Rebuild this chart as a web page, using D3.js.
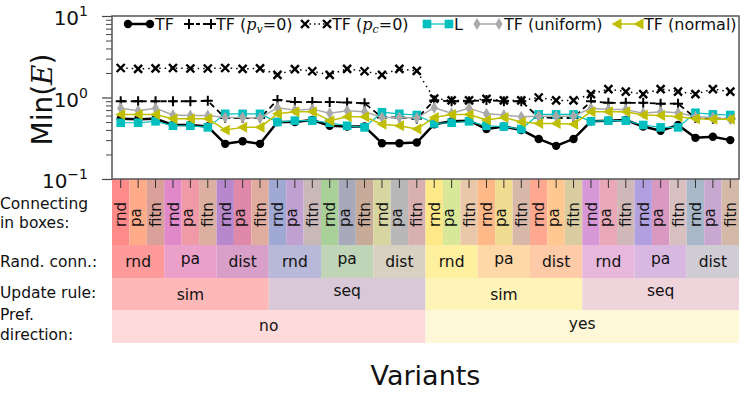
<!DOCTYPE html>
<html>
<head>
<meta charset="utf-8">
<script src="https://cdn.jsdelivr.net/npm/d3@7"></script>
<style>
  body { margin: 0; background: #fff; }
  svg { display: block; font-family: "DejaVu Sans", sans-serif; }
</style>
</head>
<body>
<svg id="chart"></svg>
<script>
// ---- data ----
const variants = d3.range(36);

const tfVals = [0.55, 0.54, 0.55, 0.46, 0.46, 0.44, 0.27, 0.29, 0.27, 0.50, 0.50, 0.53, 0.45, 0.44, 0.44, 0.275, 0.275, 0.28,
                0.47, 0.51, 0.52, 0.41, 0.44, 0.40, 0.31, 0.255, 0.31, 0.51, 0.52, 0.53, 0.44, 0.39, 0.46, 0.32, 0.33, 0.30];
const pvVals = [0.90, 0.90, 0.90, 0.90, 0.90, 0.91, 0.56, 0.56, 0.56, 0.93, 0.88, 0.88, 0.88, 0.87, 0.85, 0.57, 0.57, 0.55,
                0.92, 0.90, 0.90, 0.93, 0.90, 0.90, 0.57, 0.56, 0.56, 0.90, 0.86, 0.86, 0.86, 0.84, 0.84, 0.56, 0.55, 0.55];
const pcVals = [2.30, 2.25, 2.28, 2.30, 2.27, 2.27, 2.30, 2.25, 2.28, 1.90, 2.23, 2.10, 1.90, 2.25, 2.10, 1.90, 2.25, 2.12,
                0.97, 0.92, 0.92, 0.96, 0.92, 0.92, 1.00, 0.92, 0.92, 1.10, 1.27, 1.18, 1.10, 1.27, 1.18, 1.10, 1.27, 1.18];
const lVals  = [0.49, 0.49, 0.51, 0.45, 0.45, 0.43, 0.63, 0.63, 0.63, 0.50, 0.52, 0.52, 0.49, 0.45, 0.43, 0.66, 0.63, 0.61,
                0.48, 0.49, 0.51, 0.45, 0.44, 0.41, 0.62, 0.62, 0.62, 0.51, 0.52, 0.52, 0.46, 0.43, 0.43, 0.65, 0.62, 0.61];
const uniVals = [0.74, 0.69, 0.74, 0.61, 0.60, 0.60, 0.57, 0.57, 0.56, 0.75, 0.70, 0.72, 0.64, 0.69, 0.67, 0.57, 0.57, 0.56,
                 0.75, 0.64, 0.74, 0.63, 0.61, 0.58, 0.59, 0.59, 0.59, 0.74, 0.71, 0.71, 0.64, 0.67, 0.65, 0.58, 0.57, 0.54];
const normVals = [0.62, 0.62, 0.62, 0.55, 0.55, 0.55, 0.40, 0.43, 0.43, 0.63, 0.67, 0.67, 0.52, 0.58, 0.58, 0.47, 0.45, 0.41,
                  0.57, 0.62, 0.62, 0.53, 0.57, 0.50, 0.48, 0.48, 0.47, 0.67, 0.67, 0.67, 0.61, 0.60, 0.58, 0.55, 0.54, 0.54];

// table rows
const boxLabels = d3.range(36).map(i => ["rnd", "pa", "fitn"][i % 3]);
const boxColors = ["#ff8a8a", "#ffaa88", "#d8a098", "#e088c8", "#f09aa8", "#dcb0a0", "#b888cc", "#e088a8", "#e0aca0",
                   "#a0a8d4", "#c0a0d0", "#c8b8b8", "#a8d098", "#a8aabc", "#c8aa98", "#d8d6a0", "#b8b8b8", "#d8b0b0",
                   "#ffe888", "#d8e898", "#e8c8a8", "#ffb888", "#f0dc90", "#d8b8a8", "#ffa890", "#ffc890", "#d8cca0",
                   "#d898d8", "#e8a8b8", "#d0b8b8", "#b0a0e0", "#d898c0", "#d8c0c0", "#a8b8c8", "#c8a8d0", "#d4b8a8"];
const connLabels = ["rnd", "pa", "dist", "rnd", "pa", "dist", "rnd", "pa", "dist", "rnd", "pa", "dist"];
const connColors = ["#ff9a9a", "#eaa0c8", "#d8a0c8", "#b8b8d8", "#c0d4b8", "#d8d0c0",
                    "#fff0a0", "#ffd8a8", "#ffcaa8", "#e8b8dc", "#d8b8e0", "#d0ccd4"];
const ruleLabels = ["sim", "seq", "sim", "seq"];
const ruleColors = ["#ffb8b8", "#d8c8d8", "#fff4b8", "#f0d4dc"];
const dirLabels = ["no", "yes"];
const dirColors = ["#ffdada", "#fff8d8"];

const rowNames = [["Connecting", "in boxes:"], ["Rand. conn.:"], ["Update rule:"], ["Pref.", "direction:"]];

// ---- layout ----
const W = 747, H = 399;
const plot = { left: 112, right: 739, top: 16, bottom: 179 };
const rowY = [179, 245, 278, 310, 343];

const svg = d3.select("#chart").attr("width", W).attr("height", H);

// scales
const x = d3.scaleBand().domain(variants).range([plot.left, plot.right]).padding(0);
const cx = i => x(i) + x.bandwidth() / 2;
const y = d3.scaleLog().domain([0.1, 10]).range([plot.bottom, plot.top]);

// baseline offset so that ink is centred (matplotlib centres on the bbox)
function inkShift(s, fs) {
  const asc = /[A-Zbdfhiklt]/.test(s) ? 0.76 : 0.55;
  const desc = /[gjpqy]/.test(s) ? 0.23 : 0;
  return (asc - desc) / 2 * fs;
}

// ---- table ----
const table = svg.append("g");

function drawRow(labels, colors, span, y0, y1) {
  const g = table.append("g");
  labels.forEach((lab, k) => {
    const x0 = x(k * span);
    const x1 = x(k * span + span - 1) + x.bandwidth();
    g.append("rect")
      .attr("x", x0).attr("y", y0)
      .attr("width", x1 - x0).attr("height", y1 - y0)
      .attr("fill", colors[k]);
    g.append("text")
      .attr("x", (x0 + x1) / 2)
      .attr("y", (y0 + y1) / 2 + inkShift(lab, 15.5))
      .attr("text-anchor", "middle")
      .attr("font-size", 15.5)
      .attr("fill", "#111")
      .text(lab);
  });
}

// row 1: per variant, rotated labels
table.selectAll(".box")
  .data(variants)
  .enter()
  .append("rect")
  .attr("x", d => x(d))
  .attr("y", rowY[0])
  .attr("width", x.bandwidth())
  .attr("height", rowY[1] - rowY[0])
  .attr("fill", d => boxColors[d]);

table.selectAll(".boxlab")
  .data(variants)
  .enter()
  .append("text")
  .attr("transform", d => `translate(${cx(d) + inkShift(boxLabels[d], 15)},227) rotate(-90)`)
  .attr("font-size", 15)
  .attr("fill", "#111")
  .text(d => boxLabels[d]);

drawRow(connLabels, connColors, 3, rowY[1], rowY[2]);
drawRow(ruleLabels, ruleColors, 9, rowY[2], rowY[3]);
drawRow(dirLabels, dirColors, 18, rowY[3], rowY[4]);

// x ticks going down into the table
svg.append("g")
  .attr("transform", `translate(0,${plot.bottom})`)
  .call(d3.axisBottom(x).tickSize(9).tickFormat(""))
  .call(g => g.select(".domain").remove())
  .call(g => g.selectAll(".tick line").attr("stroke", "#333").attr("stroke-width", 1));

// row names
const names = svg.append("g").attr("font-size", 15.5).attr("fill", "#111");
const nameBase = [[209, 228], [267], [298], [320, 340]];
rowNames.forEach((lines, r) => {
  lines.forEach((ln, j) => {
    names.append("text").attr("x", 0).attr("y", nameBase[r][j]).text(ln);
  });
});

// ---- y axis ----
const majors = [0.1, 1, 10];
const minors = [];
[0.1, 1].forEach(b => d3.range(2, 10).forEach(m => minors.push(b * m)));

svg.append("g")
  .attr("transform", `translate(${plot.left},0)`)
  .call(d3.axisLeft(y).tickValues(minors).tickSize(6).tickFormat(""))
  .call(g => g.select(".domain").remove())
  .call(g => g.selectAll(".tick line").attr("stroke", "#444").attr("stroke-width", 1));

svg.append("g")
  .attr("transform", `translate(${plot.left},0)`)
  .call(d3.axisLeft(y).tickValues(majors).tickSize(10).tickFormat(""))
  .call(g => g.select(".domain").remove())
  .call(g => g.selectAll(".tick line").attr("stroke", "#444").attr("stroke-width", 1.2));

const expo = { 0.1: "\u22121", 1: "0", 10: "1" };
majors.forEach(v => {
  const t = svg.append("text")
    .attr("x", 88)
    .attr("y", y(v) + 9)
    .attr("text-anchor", "end")
    .attr("font-size", 20)
    .attr("fill", "#111");
  t.append("tspan").text("10");
  t.append("tspan").attr("dy", -9).attr("font-size", 14).text(expo[v]);
});

// y label
const yl = svg.append("text")
  .attr("transform", `translate(52,${(plot.top + plot.bottom) / 2 + 2}) rotate(-90)`)
  .attr("text-anchor", "middle")
  .attr("font-size", 28)
  .attr("fill", "#111");
yl.append("tspan").text("Min(");
yl.append("tspan").attr("font-family", "DejaVu Serif").attr("font-style", "italic").text("E");
yl.append("tspan").text(")");

// x label
svg.append("text")
  .attr("x", (plot.left + plot.right) / 2)
  .attr("y", 385)
  .attr("text-anchor", "middle")
  .attr("font-size", 27)
  .attr("fill", "#111")
  .text("Variants");

// ---- series ----
const series = [
  { name: "TF", vals: tfVals, color: "#000", width: 2.5, dash: null, marker: "circle" },
  { name: "pv", vals: pvVals, color: "#000", width: 1.8, dash: "6,4", marker: "plus" },
  { name: "pc", vals: pcVals, color: "#000", width: 1.5, dash: "1.5,4", marker: "cross" },
  { name: "L", vals: lVals, color: "#00bfbf", width: 1.2, dash: null, marker: "square" },
  { name: "TF (uniform)", vals: uniVals, color: "#a9a9a9", width: 1.5, dash: null, marker: "diamond" },
  { name: "TF (normal)", vals: normVals, color: "#bfbf00", width: 1.5, dash: null, marker: "triangle" }
];

function drawMarker(g, type, color) {
  if (type === "circle") {
    g.append("circle").attr("r", 4.2).attr("fill", color);
  } else if (type === "plus") {
    g.append("path").attr("d", "M-5,0H5M0,-5V5").attr("stroke", color).attr("stroke-width", 2).attr("fill", "none");
  } else if (type === "cross") {
    g.append("path").attr("d", "M-4,-4L4,4M-4,4L4,-4").attr("stroke", color).attr("stroke-width", 2.4).attr("fill", "none");
  } else if (type === "square") {
    g.append("rect").attr("x", -4.3).attr("y", -4.3).attr("width", 8.6).attr("height", 8.6).attr("fill", color);
  } else if (type === "diamond") {
    g.append("path").attr("d", "M0,-6L3.6,0L0,6L-3.6,0Z").attr("fill", color);
  } else if (type === "triangle") {
    g.append("path").attr("d", "M-5.5,0L4.5,-5.5L4.5,5.5Z").attr("fill", color);
  }
}

const lineGen = d3.line()
  .x((d, i) => cx(i))
  .y(d => y(d));

const plotG = svg.append("g");
series.forEach(s => {
  plotG.append("path")
    .datum(s.vals)
    .attr("fill", "none")
    .attr("stroke", s.color)
    .attr("stroke-width", s.width)
    .attr("stroke-dasharray", s.dash)
    .attr("stroke-linejoin", "round")
    .attr("d", lineGen);
  s.vals.forEach((v, i) => {
    const m = plotG.append("g").attr("transform", `translate(${cx(i)},${y(v)})`);
    drawMarker(m, s.marker, s.color);
  });
});

// frame
svg.append("rect")
  .attr("x", plot.left).attr("y", plot.top)
  .attr("width", plot.right - plot.left).attr("height", plot.bottom - plot.top)
  .attr("fill", "none")
  .attr("stroke", "#555")
  .attr("stroke-width", 1.5);

// ---- legend ----
const legendX = [128, 189, 305, 427, 477, 617];
const legY = 24;
const leg = svg.append("g");
series.forEach((s, k) => {
  const x0 = legendX[k];
  const g = leg.append("g");
  g.append("line")
    .attr("x1", x0).attr("x2", x0 + 22)
    .attr("y1", legY).attr("y2", legY)
    .attr("stroke", s.color)
    .attr("stroke-width", s.width)
    .attr("stroke-dasharray", s.dash ? (s.marker === "plus" ? "4,3" : "1.5,3") : null);
  [x0, x0 + 22].forEach(px => drawMarker(g.append("g").attr("transform", `translate(${px},${legY})`), s.marker, s.color));
  const t = g.append("text")
    .attr("x", x0 + 27)
    .attr("y", legY + 6)
    .attr("font-size", 16)
    .attr("fill", "#111");
  if (s.name === "pv" || s.name === "pc") {
    t.append("tspan").text("TF (");
    t.append("tspan").attr("font-family", "DejaVu Serif").attr("font-style", "italic").text("p");
    t.append("tspan").attr("font-family", "DejaVu Serif").attr("font-style", "italic")
      .attr("font-size", 11).attr("dy", 3).text(s.name === "pv" ? "v" : "c");
    t.append("tspan").attr("dy", -3).text("=0)");
  } else {
    t.text(s.name);
  }
});
</script>
</body>
</html>
